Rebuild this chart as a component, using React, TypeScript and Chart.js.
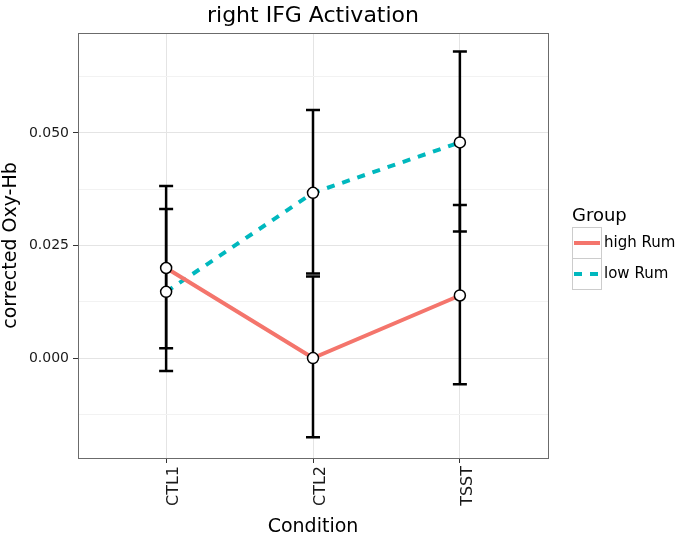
import React, { useEffect, useRef } from 'react';
import { Chart, registerables } from 'chart.js';

Chart.register(...registerables);

// ---- data ----
const categories = ['CTL1', 'CTL2', 'TSST'];
const groupNames = ['high Rum', 'low Rum'];
const highRumMean = [0.02, 0.0, 0.0139];
const highRumLower = [0.0022, -0.0176, -0.0058];
const highRumUpper = [0.0382, 0.0181, 0.034];
const lowRumMean = [0.0147, 0.0367, 0.0479];
const lowRumLower = [-0.0029, 0.0188, 0.0281];
const lowRumUpper = [0.0331, 0.0551, 0.0681];
const yMajorTicks = [0, 0.025, 0.05];
const yMinorTicks = [-0.0125, 0.0125, 0.0375, 0.0625];
const yTickLabels = ['0.000', '0.025', '0.050'];

const FONT = "'DejaVu Sans', 'Liberation Sans', sans-serif";
const RED = '#F4756C';
const TEAL = '#00B8BE';

const isMajor = (v: number) => yMajorTicks.some((m) => Math.abs(m - v) < 1e-9);

const errorBarPlugin = {
  id: 'errorBars',
  beforeDatasetsDraw(chart: any) {
    const { ctx, scales } = chart;
    const x = scales.x;
    const y = scales.y;
    ctx.save();
    ctx.strokeStyle = '#000';
    ctx.lineWidth = 2.5;
    ctx.lineCap = 'butt';
    chart.data.datasets.forEach((ds: any) => {
      ds.errLow.forEach((lo: number, i: number) => {
        const px = x.getPixelForValue(i + 1);
        const yl = y.getPixelForValue(lo);
        const yh = y.getPixelForValue(ds.errHigh[i]);
        ctx.beginPath();
        ctx.moveTo(px, yl);
        ctx.lineTo(px, yh);
        ctx.moveTo(px - 7, yl);
        ctx.lineTo(px + 7, yl);
        ctx.moveTo(px - 7, yh);
        ctx.lineTo(px + 7, yh);
        ctx.stroke();
      });
    });
    ctx.restore();
  },
};

const decorPlugin = {
  id: 'decor',
  afterDraw(chart: any) {
    const { ctx, chartArea } = chart;
    ctx.save();
    // panel border
    ctx.strokeStyle = '#6b6b6b';
    ctx.lineWidth = 1;
    ctx.strokeRect(
      Math.round(chartArea.left) + 0.5,
      Math.round(chartArea.top) + 0.5,
      Math.round(chartArea.right - chartArea.left),
      Math.round(chartArea.bottom - chartArea.top)
    );
    // title
    ctx.fillStyle = '#000';
    ctx.font = `22px ${FONT}`;
    ctx.textAlign = 'center';
    ctx.textBaseline = 'alphabetic';
    ctx.fillText('right IFG Activation', (chartArea.left + chartArea.right) / 2, 22);
    // legend
    const lx = 572;
    ctx.textAlign = 'left';
    ctx.font = `18px ${FONT}`;
    ctx.fillText('Group', lx, 221);
    const keys = [
      { y: 227, color: RED, dash: [] as number[], label: groupNames[0] },
      { y: 258, color: TEAL, dash: [8, 8], label: groupNames[1] },
    ];
    keys.forEach((k) => {
      ctx.fillStyle = '#fff';
      ctx.fillRect(lx + 0.5, k.y + 0.5, 29, 31);
      ctx.strokeStyle = '#cccccc';
      ctx.lineWidth = 1;
      ctx.setLineDash([]);
      ctx.strokeRect(lx + 0.5, k.y + 0.5, 29, 31);
      ctx.strokeStyle = k.color;
      ctx.lineWidth = 4;
      ctx.setLineDash(k.dash);
      ctx.beginPath();
      ctx.moveTo(lx + 2, k.y + 16);
      ctx.lineTo(lx + 28, k.y + 16);
      ctx.stroke();
      ctx.setLineDash([]);
      ctx.fillStyle = '#000';
      ctx.font = `15px ${FONT}`;
      ctx.textBaseline = 'middle';
      ctx.fillText(k.label, lx + 32, k.y + 16);
    });
    ctx.restore();
  },
};

export default function App() {
  const canvasRef = useRef<HTMLCanvasElement | null>(null);

  useEffect(() => {
    document.body.style.margin = '0';
    const canvas = canvasRef.current;
    if (!canvas) return;
    const pointStyle = {
      pointRadius: 5.5,
      pointBackgroundColor: '#fff',
      pointBorderColor: '#000',
      pointBorderWidth: 1.5,
      pointHoverRadius: 5.5,
    };
    const chart = new Chart(canvas, {
      type: 'line',
      data: {
        datasets: [
          {
            label: groupNames[0],
            data: categories.map((_, i) => ({ x: i + 1, y: highRumMean[i] })),
            borderColor: RED,
            borderWidth: 4,
            errLow: highRumLower,
            errHigh: highRumUpper,
            ...pointStyle,
          } as any,
          {
            label: groupNames[1],
            data: categories.map((_, i) => ({ x: i + 1, y: lowRumMean[i] })),
            borderColor: TEAL,
            borderWidth: 4,
            borderDash: [8, 8],
            errLow: lowRumLower,
            errHigh: lowRumUpper,
            ...pointStyle,
          } as any,
        ],
      },
      plugins: [errorBarPlugin, decorPlugin],
      options: {
        animation: false,
        responsive: false,
        devicePixelRatio: 1,
        layout: { padding: { top: 33, right: 133, bottom: 0, left: 0 } },
        plugins: {
          legend: { display: false },
          title: { display: false },
          tooltip: { enabled: false },
        },
        scales: {
          x: {
            type: 'linear',
            min: 0.4,
            max: 3.6,
            afterBuildTicks: (scale: any) => {
              scale.ticks = categories.map((_, i) => ({ value: i + 1 }));
            },
            afterFit: (scale: any) => {
              scale.height = 81;
            },
            ticks: {
              autoSkip: false,
              maxRotation: 90,
              minRotation: 90,
              padding: 3,
              labelOffset: 8,
              color: '#1a1a1a',
              font: { family: FONT, size: 16 },
              callback: (v: any) => categories[Math.round(Number(v)) - 1] ?? '',
            },
            grid: {
              color: '#e4e4e4',
              lineWidth: 1,
              tickLength: 5,
              tickColor: '#333',
            },
            border: { display: false },
            title: {
              display: true,
              text: 'Condition',
              color: '#000',
              font: { family: FONT, size: 19 },
              padding: { top: 0, bottom: 1 },
            },
          },
          y: {
            type: 'linear',
            min: -0.0222,
            max: 0.0722,
            afterBuildTicks: (scale: any) => {
              scale.ticks = [...yMinorTicks, ...yMajorTicks]
                .sort((a, b) => a - b)
                .map((v) => ({ value: v }));
            },
            afterFit: (scale: any) => {
              scale.width = 78;
            },
            ticks: {
              padding: 4,
              color: '#1a1a1a',
              font: { family: FONT, size: 14 },
              callback: (v: any) => {
                const idx = yMajorTicks.findIndex((m) => Math.abs(m - Number(v)) < 1e-9);
                return idx >= 0 ? yTickLabels[idx] : '';
              },
            },
            grid: {
              color: (c: any) => (isMajor(c.tick?.value) ? '#e4e4e4' : '#f2f2f2'),
              lineWidth: 1,
              tickLength: 5,
              tickColor: (c: any) => (isMajor(c.tick?.value) ? '#333' : 'rgba(0,0,0,0)'),
            },
            border: { display: false },
            title: {
              display: true,
              text: 'corrected Oxy-Hb',
              color: '#000',
              font: { family: FONT, size: 19 },
              padding: 0,
            },
          },
        },
      } as any,
    });
    return () => chart.destroy();
  }, []);

  return (
    <div style={{ width: 681, height: 539 }}>
      <canvas ref={canvasRef} width={681} height={539} style={{ display: 'block' }} />
    </div>
  );
}
